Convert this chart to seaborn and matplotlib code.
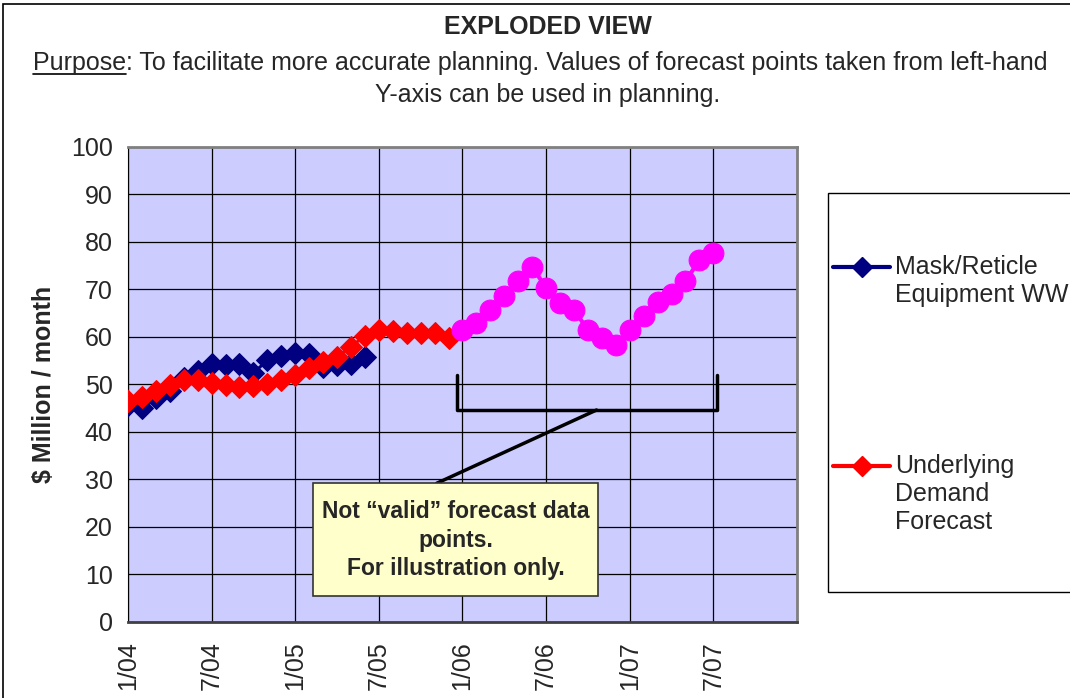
import numpy as np
import pandas as pd
import matplotlib.pyplot as plt
import seaborn as sns
from matplotlib.lines import Line2D
from matplotlib.patches import Rectangle

# month index: 0 = 1/04
tick_labels = ['1/04', '7/04', '1/05', '7/05', '1/06', '7/06', '1/07', '7/07', '']
mask_reticle = [45.6, 44.9, 47.0, 48.5, 51.3, 52.7, 54.2, 54.0, 54.2, 52.4, 55.0, 56.0,
                56.5, 56.4, 53.7, 54.1, 54.3, 55.7]
demand = [46.4, 47.3, 48.5, 49.8, 50.9, 50.9, 50.2, 49.9, 49.5, 49.6, 50.1, 50.9,
          52.0, 53.4, 54.6, 55.8, 57.9, 60.2, 61.4, 61.2, 60.8, 60.8, 60.8, 59.8]
illustration = [61.4, 62.8, 65.7, 68.6, 71.7, 74.7, 70.3, 67.1, 65.7, 61.4, 59.8, 58.2,
                61.4, 64.3, 67.3, 69.0, 71.7, 76.1, 77.7]

blue_df = pd.DataFrame({'month': np.arange(len(mask_reticle)), 'value': mask_reticle})
red_df = pd.DataFrame({'month': np.arange(len(demand)), 'value': demand})
pink_df = pd.DataFrame({'month': np.arange(len(illustration)) + len(demand), 'value': illustration})

sns.set_style('white')
plt.rcParams['font.family'] = ['Liberation Sans', 'DejaVu Sans']

fig = plt.figure(figsize=(10.7, 6.98), dpi=100)
ax = fig.add_axes([0.1196, 0.1093, 0.6252, 0.6805])
ax.set_facecolor('#CCCCFF')

sns.lineplot(data=blue_df, x='month', y='value', ax=ax, color='#000080', lw=2.2,
             marker='D', markersize=11, markeredgecolor='#000080', zorder=3)
sns.lineplot(data=red_df, x='month', y='value', ax=ax, color='#FF0000', lw=2.2,
             marker='D', markersize=11, markeredgecolor='#FF0000', zorder=4)
sns.lineplot(data=pink_df, x='month', y='value', ax=ax, color='#FF00FF', lw=3,
             marker='o', markersize=15, markeredgecolor='#FF00FF', zorder=5)

ax.set_xlim(0, 48)
ax.set_ylim(0, 100)
ax.set_xticks(range(0, 49, 6))
ax.set_xticklabels(tick_labels, rotation=90, fontsize=18)
ax.set_yticks(range(0, 101, 10))
ax.tick_params(axis='y', labelsize=18, length=8, width=1, color='black', pad=3)
ax.tick_params(axis='x', length=8, width=1, color='black', pad=6)
ax.grid(True, color='black', lw=0.9)
ax.set_axisbelow(True)
ax.set_xlabel('')
ax.set_ylabel('$ Million / month', fontsize=18, fontweight='bold', labelpad=11)
for s in ['top', 'right']:
    ax.spines[s].set_color('#808080')
    ax.spines[s].set_linewidth(2)
ax.spines['left'].set_color('black')
ax.spines['bottom'].set_color('#404040')
ax.spines['bottom'].set_linewidth(2)

# bracket + callout
ax.plot([23.58, 23.58, 42.23, 42.23], [51.9, 44.57, 44.57, 51.9], color='black', lw=2.5, zorder=6)
ax.plot([33.62, 22.15], [44.57, 29.14], color='black', lw=2.5, zorder=6)
ax.add_patch(Rectangle((13.25, 5.41), 20.49, 23.73, facecolor='#FFFFCC', edgecolor='#333333',
                       lw=1.2, zorder=7))
ax.text(23.5, 17.2, 'Not \u201cvalid\u201d forecast data\npoints.\nFor illustration only.',
        ha='center', va='center', fontsize=16.5, fontweight='bold', linespacing=1.3, zorder=8)

# outer frame
fig.add_artist(Rectangle((3 / 1070, -0.2), 1.5, 1.2 - 4 / 698, transform=fig.transFigure,
                         fill=False, edgecolor='black', lw=1.2))

# titles
fig.text(548 / 1070, 1 - 27 / 698, 'EXPLODED VIEW', ha='center', va='center',
         fontsize=18, fontweight='bold')
renderer = fig.canvas.get_renderer()
p = fig.text(33 / 1070, 1 - 63 / 698, 'Purpose', ha='left', va='center', fontsize=18)
bb = p.get_window_extent(renderer)
fig.add_artist(Line2D([bb.x0 / 1070, bb.x1 / 1070], [(bb.y0 + 1) / 698, (bb.y0 + 1) / 698],
                      transform=fig.transFigure, color='black', lw=1.2))
fig.text(bb.x1 / 1070, 1 - 63 / 698,
         ': To facilitate more accurate planning. Values of forecast points taken from left-hand',
         ha='left', va='center', fontsize=18)
fig.text(548 / 1070, 1 - 95 / 698, 'Y-axis can be used in planning.', ha='center', va='center',
         fontsize=18)

# legend
fig.add_artist(Rectangle((828 / 1070, 1 - 592 / 698), 0.5, (592 - 193) / 698,
                         transform=fig.transFigure, facecolor='white', edgecolor='black', lw=1))
for col, ypix, label in [('#000080', 267, 'Mask/Reticle\nEquipment WW'),
                         ('#FF0000', 466, 'Underlying\nDemand\nForecast')]:
    fy = 1 - ypix / 698
    fig.add_artist(Line2D([833 / 1070, 862 / 1070, 890 / 1070], [fy, fy, fy],
                          transform=fig.transFigure, color=col, lw=3, marker='D',
                          markersize=10, markevery=[1]))
    for i, line in enumerate(label.split('\n')):
        fig.text(895 / 1070, fy - i * 28 / 698, line, ha='left', va='center', fontsize=18)

fig.savefig('out.png', dpi=100)
